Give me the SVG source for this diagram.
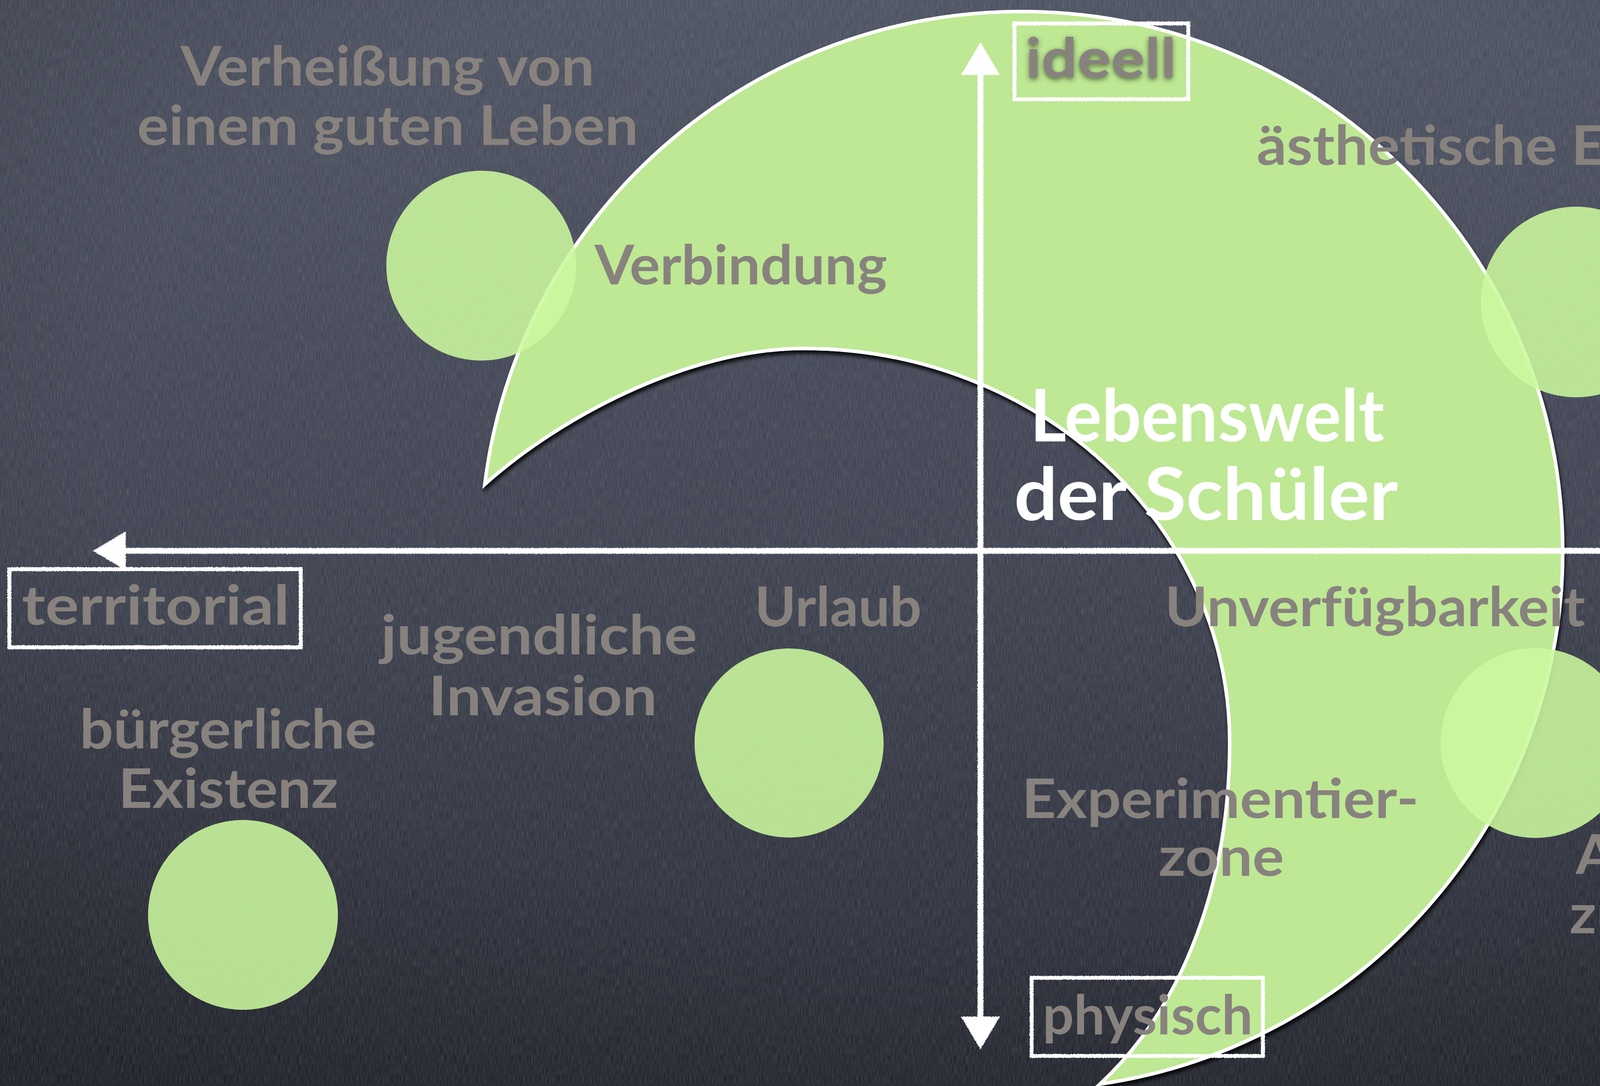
<svg xmlns="http://www.w3.org/2000/svg" width="5018" height="2780" viewBox="0 0 5018 2780">
<defs>
<linearGradient id="bg" x1="0" y1="0" x2="0" y2="1">
<stop offset="0" stop-color="#4c5161"/>
<stop offset="0.5" stop-color="#3e4250"/>
<stop offset="1" stop-color="#272a34"/>
</linearGradient>
<radialGradient id="vig" cx="0.5" cy="0.4" r="0.75">
<stop offset="0.6" stop-color="#000" stop-opacity="0"/>
<stop offset="1" stop-color="#000" stop-opacity="0.25"/>
</radialGradient>
<filter id="noise" filterUnits="userSpaceOnUse" x="0" y="0" width="5018" height="2780">
<feTurbulence type="fractalNoise" baseFrequency="0.6 0.04" numOctaves="2" seed="4"/>
<feColorMatrix type="matrix" values="0 0 0 0 1  0 0 0 0 1  0 0 0 0 1  0.25 0 0 0 -0.08"/>
</filter>
<filter id="chalk" filterUnits="userSpaceOnUse" x="0" y="0" width="5018" height="2780">
<feTurbulence type="fractalNoise" baseFrequency="0.45" numOctaves="1" seed="2" result="n"/>
<feDisplacementMap in="SourceGraphic" in2="n" scale="6" xChannelSelector="R" yChannelSelector="G"/>
</filter>
<filter id="shadow" filterUnits="userSpaceOnUse" x="0" y="0" width="5018" height="2780">
<feDropShadow dx="3" dy="9" stdDeviation="5" flood-color="#000" flood-opacity="0.85"/>
</filter>
<filter id="glow" filterUnits="userSpaceOnUse" x="2500" y="0" width="700" height="320">
<feDropShadow dx="0" dy="5" stdDeviation="7" flood-color="#2f3a22" flood-opacity="0.75"/>
</filter>
<marker id="head" viewBox="0 0 84 100" refX="0" refY="50" markerWidth="84" markerHeight="100" markerUnits="userSpaceOnUse" orient="auto-start-reverse">
<path d="M0,0 L84,50 L0,100 Z" fill="#ffffff"/>
</marker>
<style>
text { font-family: "Lato", "Noto Sans", "DejaVu Sans", sans-serif; font-weight: bold; }
.gray { fill: #88827e; font-size: 140px; }
.white { fill: #ffffff; font-size: 185px; }
.box { fill: none; stroke: #ffffff; stroke-width: 10; }
.axis { fill: none; stroke: #ffffff; stroke-width: 15; }
.dot { fill: #ccf89e; fill-opacity: 0.88; }
.crescent { fill: #bee894; stroke: #ffffff; stroke-width: 9; stroke-linejoin: miter; }
</style>
</defs>

<g id="background">
<rect x="0" y="0" width="5018" height="2780" fill="url(#bg)"/>
<rect x="0" y="0" width="5018" height="2780" fill="url(#vig)"/>
<rect x="0" y="0" width="5018" height="2780" fill="#fff" filter="url(#noise)"/>
</g>

<g id="lebenswelt">
<path class="crescent" filter="url(#shadow)" d="M1241,1240 A1385,1380 0 1 1 2816,2775 C3035,2571 3148,2250 3148,1900 A1090,1008 0 0 0 2058,892 C1758,892 1426,1073 1241,1240 Z"/>
<text class="white" x="2637" y="1130" textLength="907" lengthAdjust="spacingAndGlyphs">Lebenswelt</text>
<text class="white" x="2596" y="1331" textLength="983" lengthAdjust="spacingAndGlyphs">der Schüler</text>
</g>

<g id="connectors" filter="url(#chalk)">
<line class="axis" x1="322" y1="1410" x2="4695" y2="1410" marker-start="url(#head)" marker-end="url(#head)"/>
<line class="axis" x1="2510" y1="192" x2="2510" y2="2602" marker-start="url(#head)" marker-end="url(#head)"/>
</g>

<g id="node-ideell">
<rect class="box" x="2597" y="60" width="445" height="194" filter="url(#chalk)"/>
<text class="gray" x="2625" y="198" textLength="386" lengthAdjust="spacingAndGlyphs" filter="url(#glow)">ideell</text>
</g>

<g id="node-territorial">
<rect class="box" x="24" y="1457" width="746" height="200" filter="url(#chalk)"/>
<text class="gray" x="56" y="1599" textLength="685" lengthAdjust="spacingAndGlyphs">territorial</text>
</g>

<g id="node-exilisch">
<rect class="box" x="4479" y="1457" width="600" height="195" filter="url(#chalk)"/>
<text class="gray" x="4507" y="1599" textLength="540" lengthAdjust="spacingAndGlyphs">exilisch</text>
</g>

<g id="node-physisch">
<rect class="box" x="2641" y="2503" width="592" height="200" filter="url(#chalk)"/>
<text class="gray" x="2669" y="2648" textLength="538" lengthAdjust="spacingAndGlyphs">physisch</text>
</g>

<g id="node-verbindung">
<circle class="dot" cx="1232" cy="680" r="243"/>
<text class="gray" x="462" y="219" textLength="1060" lengthAdjust="spacingAndGlyphs">Verheißung von</text>
<text class="gray" x="351" y="371" textLength="1283" lengthAdjust="spacingAndGlyphs">einem guten Leben</text>
<text class="gray" x="1522" y="728" textLength="749" lengthAdjust="spacingAndGlyphs">Verbindung</text>
</g>

<g id="node-reflexion">
<circle class="dot" cx="4035" cy="773" r="244"/>
<text class="gray" x="3217" y="422" textLength="1636" lengthAdjust="spacingAndGlyphs">ästhetische Erfahrungen</text>
<text class="gray" x="4331" y="728" textLength="642" lengthAdjust="spacingAndGlyphs">Reflexion</text>
</g>

<g id="node-urlaub">
<circle class="dot" cx="2020" cy="1902" r="242"/>
<text class="gray" x="1932" y="1603" textLength="427" lengthAdjust="spacingAndGlyphs">Urlaub</text>
<text class="gray" x="975" y="1675" textLength="810" lengthAdjust="spacingAndGlyphs">jugendliche</text>
<text class="gray" x="1097" y="1831" textLength="585" lengthAdjust="spacingAndGlyphs">Invasion</text>
</g>

<g id="node-buergerlich">
<circle class="dot" cx="622" cy="2342" r="243"/>
<text class="gray" x="204" y="1916" textLength="760" lengthAdjust="spacingAndGlyphs">bürgerliche</text>
<text class="gray" x="303" y="2068" textLength="563" lengthAdjust="spacingAndGlyphs">Existenz</text>
</g>

<g id="node-weg">
<circle class="dot" cx="3931" cy="1902" r="243"/>
<text class="gray" x="2982" y="1603" textLength="1076" lengthAdjust="spacingAndGlyphs">Unverfügbarkeit</text>
<text class="gray" x="4034" y="2237" textLength="883" lengthAdjust="spacingAndGlyphs">Auf dem Weg</text>
<text class="gray" x="4018" y="2389" textLength="915" lengthAdjust="spacingAndGlyphs">zu Hause sein</text>
</g>

<g id="node-experimentierzone">
<text class="gray" x="2616" y="2094" textLength="1016" lengthAdjust="spacingAndGlyphs">Experimentier-</text>
<text class="gray" x="2966" y="2242" textLength="321" lengthAdjust="spacingAndGlyphs">zone</text>
</g>
</svg>
